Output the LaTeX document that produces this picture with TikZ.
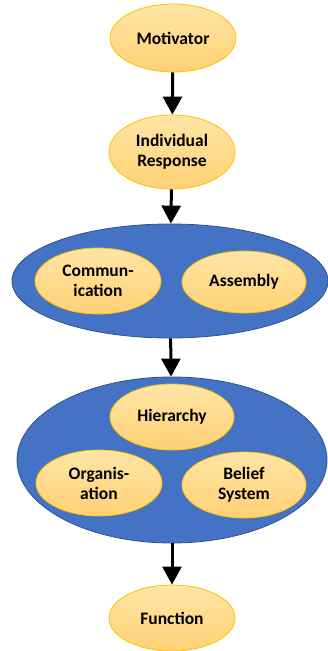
\documentclass[tikz,border=0pt]{standalone}
\usepackage{fontspec}
\setmainfont{Carlito}
\usetikzlibrary{arrows.meta,shapes.geometric}
\definecolor{petal}{HTML}{FFC000}
\definecolor{petaltop}{HTML}{FFE5A6}
\definecolor{petalbot}{HTML}{FFD175}
\definecolor{pool}{HTML}{4472C4}
\definecolor{poolline}{HTML}{2F528F}
\begin{document}
\begin{tikzpicture}[x=1pt,y=-1pt,
    petal/.style={ellipse,draw=petal,line width=0.8pt,top color=petaltop,bottom color=petalbot,
      minimum width=126pt,minimum height=68pt,inner sep=0pt,align=center,
      font=\fontsize{17.5}{20}\selectfont\bfseries},
    pool/.style={ellipse,draw=poolline,line width=0.8pt,fill=pool,inner sep=0pt},
    flow/.style={line width=3pt,-{Triangle[width=19pt,length=18pt]}}]
  \useasboundingbox (0,0) rectangle (327,651);
  %
  \node[petal] (motivator) at (173,38) {Motivator};
  \node[petal,minimum height=74pt] (response) at (172,152) {Individual\\Response};
  %
  \node[pool,minimum width=316pt,minimum height=114pt] (outer) at (170,281) {};
  \node[petal,minimum height=66pt] (comm) at (98,281) {Commun-\\ication};
  \node[petal,minimum width=124pt,minimum height=62pt] (assembly) at (244,282) {Assembly};
  %
  \node[pool,minimum width=310pt,minimum height=166pt] (inner) at (172,460) {};
  \node[petal,minimum width=124pt,minimum height=66pt] (hierarchy) at (172,417) {Hierarchy};
  \node[petal,minimum height=66pt] (organisation) at (99,483) {Organis-\\ation};
  \node[petal,minimum width=124pt,minimum height=66pt] (belief) at (244,485) {Belief\\System};
  %
  \node[petal,minimum height=66pt] (function) at (172,618) {Function};
  %
  \draw[flow] (motivator) -- (response);
  \draw[flow] (response) -- (outer);
  \draw[flow] (outer) -- (inner);
  \draw[flow] (inner) -- (function);
\end{tikzpicture}
\end{document}
